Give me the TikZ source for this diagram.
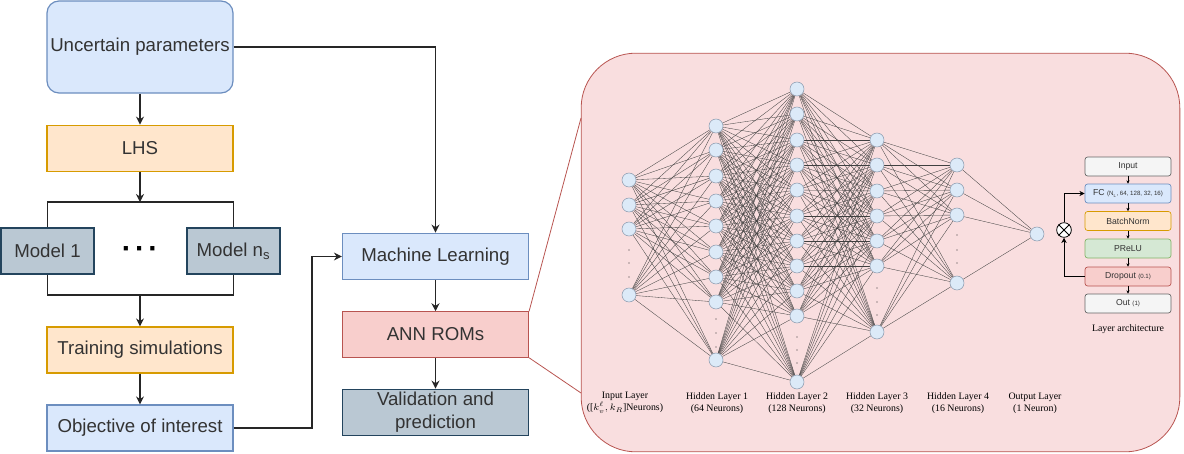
\documentclass[tikz,border=0pt]{standalone}
\usepackage{fontspec}
\setmainfont{Liberation Sans}
\newfontfamily\timesfont{Liberation Serif}
\usetikzlibrary{arrows.meta,positioning,calc}
\definecolor{lblue}  {HTML}{DAE8FC}
\definecolor{dblue}  {HTML}{6C8EBF}
\definecolor{lorange}{HTML}{FFE6CC}
\definecolor{dorange}{HTML}{D79B00}
\definecolor{lslate} {HTML}{BAC8D3}
\definecolor{dslate} {HTML}{23445D}
\definecolor{lred}   {HTML}{F8CECC}
\definecolor{dred}   {HTML}{B85450}
\definecolor{lgreen} {HTML}{D5E8D4}
\definecolor{dgreen} {HTML}{82B366}
\definecolor{lgray}  {HTML}{F5F5F5}
\definecolor{dgray}  {HTML}{666666}
\definecolor{panel}  {HTML}{F9DEDF}
\definecolor{nfill}  {HTML}{DCEAF8}
\definecolor{nedge}  {HTML}{8A9AAE}
\definecolor{txtgray}{HTML}{333333}
\pgfdeclarelayer{bg}
\pgfdeclarelayer{wires}
\pgfsetlayers{bg,wires,main}

\begin{document}
\begin{tikzpicture}[
  x=0.75pt,y=-0.75pt,
  blk/.style={rectangle,line width=0.9pt,text=txtgray,align=center,inner sep=1pt,
              minimum width=139.5pt,minimum height=35pt,font=\fontsize{14}{17}\selectfont},
  bluebox/.style={blk,draw=dblue,fill=lblue},
  orbox/.style={blk,draw=dorange,fill=lorange},
  slatebox/.style={blk,draw=dslate,fill=lslate},
  redbox/.style={blk,draw=dred,fill=lred},
  arr/.style={-{Stealth[length=6pt,width=6pt]},line width=1pt,draw=black!85},
  conn/.style={line width=1pt,draw=black!85},
  zoomln/.style={draw=dred,line width=0.6pt},
  neuron/.style={circle,draw=nedge,fill=nfill,line width=0.4pt,minimum size=10.5pt,inner sep=0pt},
  syn/.style={line width=0.25pt,draw=black!75},
  vdot/.style={circle,fill=black!80,inner sep=0pt,minimum size=1pt},
  lab/.style={font=\timesfont\fontsize{7.4}{9}\selectfont,align=center},
  lyr/.style={rectangle,rounded corners=2pt,line width=0.5pt,inner sep=0pt,text=txtgray,
              minimum width=64.5pt,minimum height=14.25pt,font=\fontsize{6.5}{7}\selectfont},
  sarr/.style={-{Stealth[length=2.5pt,width=2.5pt]},line width=0.5pt},
]
\useasboundingbox (0,0) rectangle (1184,453);

%% ── Workflow: left column ────────────────────────────────────────────────
\node[bluebox,rounded corners=9pt,minimum height=69pt] (up) at (140,47) {Uncertain parameters};
\node[orbox] (lhs) at (140,148.5) {LHS};
\node[slatebox,minimum width=69.75pt,minimum height=34.5pt] (m1) at (47.5,251) {Model 1};
\node[font=\fontsize{22}{22}\selectfont\bfseries] (dots) at (140,253)
  {·\hspace{0.12em}·\hspace{0.12em}·};
\node[slatebox,minimum width=69.75pt,minimum height=34.5pt] (mn) at (233.5,251) {Model n\textsubscript{s}};
\node[orbox,minimum height=34.5pt] (train) at (140,350) {Training simulations};
\node[bluebox,minimum height=34.5pt] (obj) at (140,428) {Objective of interest};

\coordinate (br) at (140,202);
\coordinate (bj) at (140,295);

\draw[arr] (up.south) -- (lhs.north);
\draw[arr] (lhs.south) -- (br);
\draw[conn] (m1.north) |- (br) -| (mn.north);
\draw[conn] (m1.south) |- (bj) -| (mn.south);
\draw[arr] (bj) -- (train.north);
\draw[arr] (train.south) -- (obj.north);

%% ── Workflow: middle column ──────────────────────────────────────────────
\node[bluebox] (ml) at (435.5,256.5) {Machine Learning};
\node[redbox,minimum height=34pt] (ann) at (435.5,334.5) {ANN ROMs};
\node[slatebox] (val) at (435.5,412.5) {Validation and\\prediction};

\coordinate (tv) at (312,428);
\draw[arr] (up.east) -| (ml.north);
\draw[arr] (obj.east) -- (tv) |- (ml.west);
\draw[arr] (ml.south) -- (ann.north);
\draw[arr] (ann.south) -- (val.north);

%% ── Zoom panel ───────────────────────────────────────────────────────────
\begin{pgfonlayer}{bg}
\node[rectangle,draw=dred,fill=panel,line width=0.6pt,rounded corners=41pt,
      minimum width=449pt,minimum height=299pt] (annbox) at (880.5,252.5) {};
\end{pgfonlayer}
\coordinate (zt) at (581,118);
\coordinate (zb) at (581,393);
\draw[zoomln] (ann.north east) -- (zt);
\draw[zoomln] (ann.south east) -- (zb);

%% ── Network layers ───────────────────────────────────────────────────────
\foreach \y [count=\k] in {180,205,229,295}
  \node[neuron] (in\k) at (629,\y) {};
\foreach \y [count=\k] in {126,150,176,201,226,252,277,302,360}
  \node[neuron] (ha\k) at (716,\y) {};
\foreach \y [count=\k] in {89,114,140,165,190,216,241,266,291,316,382}
  \node[neuron] (hb\k) at (797,\y) {};
\foreach \y [count=\k] in {140,165,191,216,241,266,332}
  \node[neuron] (hc\k) at (877,\y) {};
\foreach \y [count=\k] in {165,190,215,283}
  \node[neuron] (hd\k) at (957,\y) {};
\node[neuron] (outn) at (1037,234) {};

%% vertical ellipses
\foreach \x/\ys in {629/{250,263,277},716/{319,333,347},797/{337,350,363},
                    877/{288,302,315},957/{235,250,263}}
  \foreach \y in \ys
    \node[vdot] at (\x,\y) {};

%% all-to-all weights
\begin{pgfonlayer}{wires}
\foreach \a in {1,...,4} \foreach \b in {1,...,9}  \draw[syn] (in\a) -- (ha\b);
\foreach \a in {1,...,9} \foreach \b in {1,...,11} \draw[syn] (ha\a) -- (hb\b);
\foreach \a in {1,...,11} \foreach \b in {1,...,7} \draw[syn] (hb\a) -- (hc\b);
\foreach \a in {1,...,7} \foreach \b in {1,...,4}  \draw[syn] (hc\a) -- (hd\b);
\foreach \a in {1,...,4} \draw[syn] (hd\a) -- (outn);
\end{pgfonlayer}

%% layer captions
\node[lab] (tin) at (625,403) {Input Layer\\([$k_v^{\ell}, k_R$]Neurons)};
\node[lab] (th1) at (717,403) {Hidden Layer 1\\(64 Neurons)};
\node[lab] (th2) at (797,403) {Hidden Layer 2\\(128 Neurons)};
\node[lab] (th3) at (877,403) {Hidden Layer 3\\(32 Neurons)};
\node[lab] (th4) at (958,403) {Hidden Layer 4\\(16 Neurons)};
\node[lab] (tout) at (1035,403) {Output Layer\\(1 Neuron)};

%% ── Layer architecture ───────────────────────────────────────────────────
\node[lyr,draw=dgray,fill=lgray] (lin) at (1128,166.5) {Input};
\node[lyr,draw=dblue,fill=lblue] (lfc) at (1128,193.5)
  {FC {\fontsize{4.6}{5}\selectfont (N\textsubscript{L}, 64, 128, 32, 16)}};
\node[lyr,draw=dorange,fill=lorange] (lbn) at (1128,221) {BatchNorm};
\node[lyr,draw=dgreen,fill=lgreen] (lpr) at (1128,248.5) {PReLU};
\node[lyr,draw=dred,fill=lred] (ldr) at (1128,276.5)
  {Dropout {\fontsize{4.6}{5}\selectfont (0.1)}};
\node[lyr,draw=dgray,fill=lgray] (lout) at (1128,303.5)
  {Out {\fontsize{4.6}{5}\selectfont (1)}};
\node[circle,draw=black,fill=white,line width=0.6pt,minimum size=11pt,inner sep=0pt] (ox) at (1064,230) {};
\draw[line width=0.6pt] (ox.45) -- (ox.225) (ox.135) -- (ox.315);

\draw[sarr] (lin.south) -- (lfc.north);
\draw[sarr] (lfc.south) -- (lbn.north);
\draw[sarr] (lbn.south) -- (lpr.north);
\draw[sarr] (lpr.south) -- (ldr.north);
\draw[sarr] (ldr.south) -- (lout.north);
\draw[-{Stealth[length=4pt,width=4pt]},line width=0.6pt] (ldr.west) -| (ox.south);
\draw[-{Stealth[length=4pt,width=4pt]},line width=0.6pt] (ox.north) |- (lfc.west);

\node[lab] (tarch) at (1128,329) {Layer architecture};

\end{tikzpicture}
\end{document}
